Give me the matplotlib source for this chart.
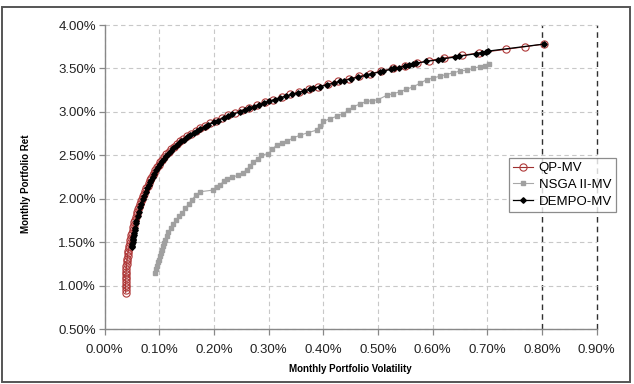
import matplotlib
matplotlib.use("Agg")
import matplotlib.pyplot as plt
from matplotlib.ticker import FuncFormatter
from matplotlib.patches import Rectangle

plt.rcParams['font.family'] = ['Liberation Sans', 'DejaVu Sans']

# ---- data (values in %) ----
qp_ret = [0.92, 0.95, 0.98, 1.01, 1.04, 1.07, 1.10, 1.13, 1.16, 1.19, 1.22, 1.25, 1.28, 1.31,
          1.34, 1.37, 1.40, 1.43, 1.46, 1.49, 1.52, 1.55, 1.58, 1.61, 1.64, 1.67, 1.70, 1.73,
          1.76, 1.79, 1.82, 1.85, 1.88, 1.91, 1.94, 1.97, 2.00, 2.03, 2.06, 2.09, 2.12, 2.15,
          2.18, 2.21, 2.24, 2.27, 2.30, 2.33, 2.36, 2.39, 2.42, 2.45, 2.48, 2.51, 2.54, 2.57,
          2.60, 2.63, 2.66, 2.69, 2.72, 2.75, 2.78, 2.81, 2.84, 2.87, 2.90, 2.93, 2.96, 2.99,
          3.02, 3.05, 3.08, 3.11, 3.14, 3.17, 3.20, 3.23, 3.26, 3.29, 3.32, 3.35, 3.38, 3.41,
          3.44, 3.47, 3.50, 3.53, 3.56, 3.59, 3.62, 3.65, 3.68, 3.72, 3.75, 3.78]
qp_vol = [0.0388, 0.0386, 0.0385, 0.0385, 0.0386, 0.0388, 0.0390, 0.0392, 0.0395, 0.0398, 0.0401,
          0.0405, 0.0410, 0.0415, 0.0421, 0.0428, 0.0436, 0.0444, 0.0453, 0.0462, 0.0472, 0.0482,
          0.0492, 0.0502, 0.0513, 0.0524, 0.0536, 0.0548, 0.0561, 0.0575, 0.0589, 0.0603, 0.0618,
          0.0633, 0.0649, 0.0666, 0.0685, 0.0704, 0.0724, 0.0745, 0.0767, 0.0790, 0.0813, 0.0836,
          0.0858, 0.0882, 0.0906, 0.0932, 0.0960, 0.0990, 0.1022, 0.1056, 0.1093, 0.1133, 0.1175,
          0.1220, 0.1268, 0.1320, 0.1375, 0.1440, 0.1510, 0.1585, 0.1665, 0.1750, 0.1840, 0.1935,
          0.2035, 0.2145, 0.2262, 0.2385, 0.2515, 0.2650, 0.2790, 0.2935, 0.3085, 0.3240, 0.3400,
          0.3565, 0.3735, 0.3910, 0.4090, 0.4275, 0.4465, 0.4660, 0.4860, 0.5065, 0.5275, 0.5490,
          0.5710, 0.5935, 0.6200, 0.6530, 0.6850, 0.7340, 0.7690, 0.8030]

nsga_vol = [0.093, 0.094, 0.096, 0.097, 0.099, 0.101, 0.103, 0.105, 0.107, 0.109, 0.111, 0.114,
            0.117, 0.121, 0.126, 0.131, 0.137, 0.142, 0.148, 0.154, 0.160, 0.167, 0.175, 0.199,
            0.205, 0.211, 0.218, 0.224, 0.234, 0.245, 0.253, 0.260, 0.266, 0.272, 0.280, 0.287,
            0.299, 0.307, 0.315, 0.325, 0.333, 0.345, 0.357, 0.372, 0.388, 0.394, 0.400, 0.412,
            0.425, 0.437, 0.446, 0.455, 0.467, 0.479, 0.490, 0.500, 0.516, 0.528, 0.540, 0.552,
            0.565, 0.577, 0.589, 0.601, 0.613, 0.625, 0.638, 0.650, 0.662, 0.674, 0.686, 0.695,
            0.703]
nsga_ret = [1.15, 1.19, 1.23, 1.27, 1.30, 1.34, 1.38, 1.41, 1.45, 1.49, 1.52, 1.57,
            1.62, 1.66, 1.71, 1.75, 1.80, 1.84, 1.89, 1.94, 1.99, 2.04, 2.08, 2.10,
            2.13, 2.16, 2.20, 2.23, 2.25, 2.27, 2.30, 2.33, 2.38, 2.42, 2.46, 2.50,
            2.52, 2.57, 2.62, 2.64, 2.66, 2.70, 2.73, 2.76, 2.79, 2.84, 2.89, 2.92,
            2.95, 2.98, 3.02, 3.06, 3.09, 3.12, 3.13, 3.14, 3.19, 3.21, 3.23, 3.26,
            3.29, 3.33, 3.37, 3.39, 3.41, 3.43, 3.45, 3.47, 3.48, 3.50, 3.52, 3.53,
            3.55]

dempo_ret = [1.44, 1.46, 1.48, 1.50, 1.52, 1.54, 1.56, 1.58, 1.61, 1.64, 1.66, 1.72, 1.74, 1.80,
             1.85, 1.90, 1.94, 2.00, 2.03, 2.08, 2.12, 2.16, 2.19, 2.22, 2.25, 2.29, 2.33, 2.36,
             2.40, 2.43, 2.46, 2.49, 2.52, 2.55, 2.58, 2.61, 2.63, 2.66, 2.68, 2.71, 2.73, 2.76,
             2.78, 2.80, 2.83, 2.85, 2.88, 2.90, 2.93, 2.95, 2.97, 3.00, 3.02, 3.04, 3.06, 3.08,
             3.10, 3.12, 3.14, 3.16, 3.18, 3.20, 3.22, 3.24, 3.26, 3.27, 3.29, 3.31, 3.33, 3.35,
             3.36, 3.38, 3.40, 3.42, 3.44, 3.46, 3.47, 3.49, 3.50, 3.51, 3.53, 3.54, 3.55, 3.56,
             3.58, 3.60, 3.61, 3.63, 3.64, 3.67, 3.68, 3.69, 3.70, 3.78]
dempo_vol = [0.0500, 0.0504, 0.0508, 0.0512, 0.0517, 0.0522, 0.0527, 0.0532, 0.0540, 0.0550,
             0.0556, 0.0575, 0.0582, 0.0605, 0.0625, 0.0648, 0.0668, 0.0705, 0.0722, 0.0752,
             0.0780, 0.0805, 0.0830, 0.0855, 0.0880, 0.0912, 0.0950, 0.0980, 0.1020, 0.1055,
             0.1090, 0.1130, 0.1170, 0.1212, 0.1260, 0.1310, 0.1345, 0.1400, 0.1445, 0.1510,
             0.1560, 0.1635, 0.1690, 0.1745, 0.1835, 0.1895, 0.2000, 0.2070, 0.2180, 0.2260,
             0.2340, 0.2470, 0.2560, 0.2640, 0.2740, 0.2830, 0.2920, 0.3010, 0.3110, 0.3210,
             0.3320, 0.3420, 0.3530, 0.3640, 0.3760, 0.3820, 0.3940, 0.4060, 0.4190, 0.4310,
             0.4380, 0.4510, 0.4640, 0.4780, 0.4900, 0.5030, 0.5100, 0.5240, 0.5300, 0.5380,
             0.5500, 0.5560, 0.5640, 0.5700, 0.5880, 0.6100, 0.6180, 0.6400, 0.6480, 0.6800,
             0.6900, 0.6980, 0.7020, 0.8030]

series_labels = ["QP-MV", "NSGA II-MV", "DEMPO-MV"]
x_ticks = [0.0, 0.1, 0.2, 0.3, 0.4, 0.5, 0.6, 0.7, 0.8, 0.9]
y_ticks = [0.5, 1.0, 1.5, 2.0, 2.5, 3.0, 3.5, 4.0]
x_label = "Monthly Portfolio Volatility"
y_label = "Monthly Portfolio Ret"

# ---- figure ----
fig = plt.figure(figsize=(6.34, 3.84), dpi=100)
fig.patch.set_facecolor("white")
ax = fig.add_axes([104.5 / 634, 1 - 329 / 384, (596.7 - 104.5) / 634, (329 - 25) / 384])

ax.plot(qp_vol, qp_ret, color="#9e3030", lw=0.8, marker="o", ms=5.2,
        mfc="none", mec="#b03a3a", mew=0.8, label=series_labels[0], zorder=3)
ax.plot(nsga_vol, nsga_ret, color="#a8a8a8", lw=0.8, marker="s", ms=3.2,
        mfc="#a0a0a0", mec="#a0a0a0", label=series_labels[1], zorder=3)
ax.plot(dempo_vol, dempo_ret, color="black", lw=0.9, marker="D", ms=2.8,
        mfc="black", mec="black", label=series_labels[2], zorder=4)

ax.set_xlim(x_ticks[0], x_ticks[-1])
ax.set_ylim(y_ticks[0], y_ticks[-1])
ax.set_xticks(x_ticks)
ax.set_yticks(y_ticks)
fmt = FuncFormatter(lambda v, p: f"{v:.2f}%")
ax.xaxis.set_major_formatter(fmt)
ax.yaxis.set_major_formatter(fmt)

for s in ["top", "right"]:
    ax.spines[s].set_visible(False)
for s in ["left", "bottom"]:
    ax.spines[s].set_color("#888888")
    ax.spines[s].set_linewidth(1.0)

ax.tick_params(axis="x", direction="out", length=4, width=0.9, color="#888888",
               pad=7, labelsize=9.5, labelcolor="#222222")
ax.tick_params(axis="y", direction="out", length=4, width=0.9, color="#888888",
               pad=2, labelsize=9.5, labelcolor="#222222")

ax.grid(True, color="#c8c8c8", linestyle=(0, (4, 3)), linewidth=0.8, zorder=0)
ax.set_axisbelow(True)
for gl in ax.xaxis.get_gridlines() + ax.yaxis.get_gridlines():
    gl.set_clip_on(False)
xgl = ax.xaxis.get_gridlines()
for i in (len(x_ticks) - 2, len(x_ticks) - 1):
    xgl[i].set_color("#303030")
    xgl[i].set_linewidth(1.0)

leg = ax.legend(loc="upper left", bbox_to_anchor=(0.822, 0.5625), frameon=True,
                fancybox=False, edgecolor="#707070", fontsize=9.5, borderpad=0.3,
                labelspacing=0.35, handlelength=1.5, handletextpad=0.45,
                borderaxespad=0)
leg.get_frame().set_linewidth(0.9)
leg.set_zorder(10)

fig.text(350.6 / 634, 1 - 369 / 384, x_label, ha="center", va="center",
         fontsize=7, fontweight="bold")
fig.text(26 / 634, 1 - 184 / 384, y_label, ha="center", va="center",
         rotation=90, fontsize=7, fontweight="bold")

fig.patches.append(Rectangle((2 / 634, 1 - 382 / 384), 628 / 634, 375 / 384,
                             transform=fig.transFigure, fill=False,
                             edgecolor="#555555", linewidth=1.4))

fig.savefig("out.png", dpi=100, facecolor="white")
